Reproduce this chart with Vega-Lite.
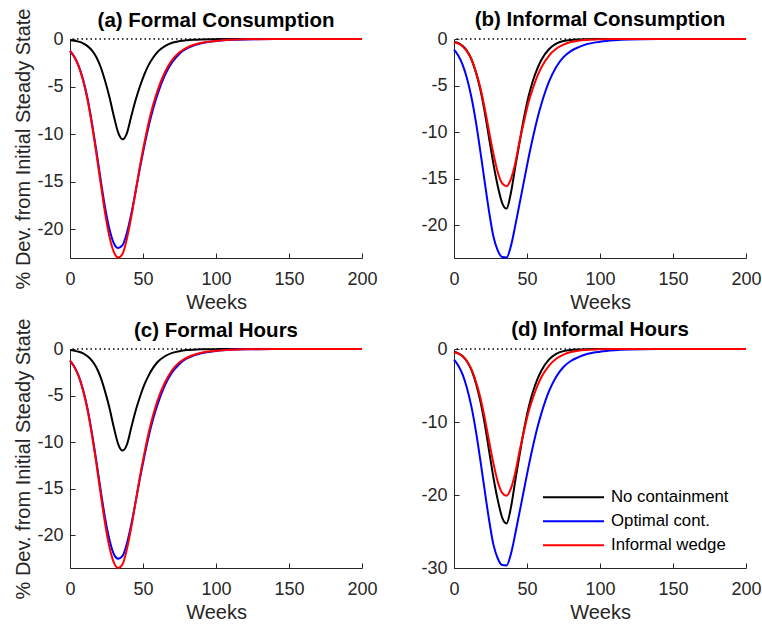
{
  "$schema": "https://vega.github.io/schema/vega-lite/v6.json",
  "background": "white",
  "padding": {"left": 13, "top": 8, "right": 0, "bottom": 0},
  "config": {
    "font": "Liberation Sans",
    "locale": {"number": {"decimal": ".", "thousands": ",", "grouping": [3], "currency": ["$", ""], "minus": "-"}},
    "view": {"stroke": null},
    "axis": {"grid": false, "labelFlush": false, "domainColor": "#262626", "domainWidth": 1, "tickColor": "#262626", "tickSize": -5, "labelColor": "#262626", "labelFontSize": 18, "labelFont": "Liberation Sans", "titleFont": "Liberation Sans", "titleFontSize": 20, "titleFontWeight": "normal", "titleColor": "#262626"},
    "axisX": {"labelPadding": 17, "titlePadding": 4},
    "axisY": {"labelPadding": 12, "titlePadding": 3},
    "title": {"font": "Liberation Sans", "fontSize": 20.5, "fontWeight": "bold", "color": "#000000"}
  },
  "datasets": {
    "a": [
      {"series": "No containment", "week": 0, "value": -0.12}, {"series": "No containment", "week": 3, "value": -0.18}, {"series": "No containment", "week": 6, "value": -0.28}, {"series": "No containment", "week": 9, "value": -0.45}, {"series": "No containment", "week": 12, "value": -0.75}, {"series": "No containment", "week": 15, "value": -1.2}, {"series": "No containment", "week": 18, "value": -1.9}, {"series": "No containment", "week": 21, "value": -2.95}, {"series": "No containment", "week": 24, "value": -4.4}, {"series": "No containment", "week": 27, "value": -6.1}, {"series": "No containment", "week": 30, "value": -8.1}, {"series": "No containment", "week": 33, "value": -9.85}, {"series": "No containment", "week": 36, "value": -10.55}, {"series": "No containment", "week": 39, "value": -9.9}, {"series": "No containment", "week": 42, "value": -8.1}, {"series": "No containment", "week": 45, "value": -6.4}, {"series": "No containment", "week": 48, "value": -4.95}, {"series": "No containment", "week": 51, "value": -3.7}, {"series": "No containment", "week": 54, "value": -2.7}, {"series": "No containment", "week": 57, "value": -1.95}, {"series": "No containment", "week": 60, "value": -1.35}, {"series": "No containment", "week": 65, "value": -0.75}, {"series": "No containment", "week": 70, "value": -0.4}, {"series": "No containment", "week": 75, "value": -0.22}, {"series": "No containment", "week": 80, "value": -0.12}, {"series": "No containment", "week": 85, "value": -0.07}, {"series": "No containment", "week": 90, "value": -0.04}, {"series": "No containment", "week": 100, "value": -0.015}, {"series": "No containment", "week": 110, "value": 0}, {"series": "No containment", "week": 140, "value": 0}, {"series": "No containment", "week": 200, "value": 0},
      {"series": "Optimal cont.", "week": 0, "value": -1.25}, {"series": "Optimal cont.", "week": 3, "value": -1.9}, {"series": "Optimal cont.", "week": 6, "value": -2.85}, {"series": "Optimal cont.", "week": 9, "value": -4.3}, {"series": "Optimal cont.", "week": 12, "value": -6.25}, {"series": "Optimal cont.", "week": 15, "value": -8.8}, {"series": "Optimal cont.", "week": 18, "value": -11.7}, {"series": "Optimal cont.", "week": 21, "value": -14.8}, {"series": "Optimal cont.", "week": 24, "value": -17.7}, {"series": "Optimal cont.", "week": 27, "value": -20.0}, {"series": "Optimal cont.", "week": 30, "value": -21.5}, {"series": "Optimal cont.", "week": 33, "value": -22.0}, {"series": "Optimal cont.", "week": 36, "value": -21.7}, {"series": "Optimal cont.", "week": 39, "value": -20.4}, {"series": "Optimal cont.", "week": 42, "value": -18.4}, {"series": "Optimal cont.", "week": 45, "value": -16.0}, {"series": "Optimal cont.", "week": 48, "value": -13.5}, {"series": "Optimal cont.", "week": 51, "value": -11.2}, {"series": "Optimal cont.", "week": 54, "value": -9.1}, {"series": "Optimal cont.", "week": 57, "value": -7.3}, {"series": "Optimal cont.", "week": 60, "value": -5.8}, {"series": "Optimal cont.", "week": 65, "value": -3.8}, {"series": "Optimal cont.", "week": 70, "value": -2.45}, {"series": "Optimal cont.", "week": 75, "value": -1.55}, {"series": "Optimal cont.", "week": 80, "value": -1.0}, {"series": "Optimal cont.", "week": 85, "value": -0.67}, {"series": "Optimal cont.", "week": 90, "value": -0.44}, {"series": "Optimal cont.", "week": 100, "value": -0.21}, {"series": "Optimal cont.", "week": 110, "value": -0.09}, {"series": "Optimal cont.", "week": 120, "value": -0.04}, {"series": "Optimal cont.", "week": 140, "value": -0.01}, {"series": "Optimal cont.", "week": 170, "value": 0}, {"series": "Optimal cont.", "week": 200, "value": 0},
      {"series": "Informal wedge", "week": 0, "value": -1.25}, {"series": "Informal wedge", "week": 3, "value": -1.9}, {"series": "Informal wedge", "week": 6, "value": -2.9}, {"series": "Informal wedge", "week": 9, "value": -4.4}, {"series": "Informal wedge", "week": 12, "value": -6.4}, {"series": "Informal wedge", "week": 15, "value": -9.0}, {"series": "Informal wedge", "week": 18, "value": -12.0}, {"series": "Informal wedge", "week": 21, "value": -15.2}, {"series": "Informal wedge", "week": 24, "value": -18.3}, {"series": "Informal wedge", "week": 27, "value": -20.8}, {"series": "Informal wedge", "week": 30, "value": -22.4}, {"series": "Informal wedge", "week": 33, "value": -23.0}, {"series": "Informal wedge", "week": 36, "value": -22.6}, {"series": "Informal wedge", "week": 39, "value": -21.0}, {"series": "Informal wedge", "week": 42, "value": -18.7}, {"series": "Informal wedge", "week": 45, "value": -16.0}, {"series": "Informal wedge", "week": 48, "value": -13.3}, {"series": "Informal wedge", "week": 51, "value": -10.9}, {"series": "Informal wedge", "week": 54, "value": -8.7}, {"series": "Informal wedge", "week": 57, "value": -6.9}, {"series": "Informal wedge", "week": 60, "value": -5.4}, {"series": "Informal wedge", "week": 65, "value": -3.5}, {"series": "Informal wedge", "week": 70, "value": -2.2}, {"series": "Informal wedge", "week": 75, "value": -1.4}, {"series": "Informal wedge", "week": 80, "value": -0.9}, {"series": "Informal wedge", "week": 85, "value": -0.6}, {"series": "Informal wedge", "week": 90, "value": -0.4}, {"series": "Informal wedge", "week": 100, "value": -0.2}, {"series": "Informal wedge", "week": 110, "value": -0.08}, {"series": "Informal wedge", "week": 120, "value": -0.03}, {"series": "Informal wedge", "week": 140, "value": 0}, {"series": "Informal wedge", "week": 200, "value": 0}
    ],
    "b": [
      {"series": "No containment", "week": 0, "value": -0.3}, {"series": "No containment", "week": 3, "value": -0.45}, {"series": "No containment", "week": 6, "value": -0.75}, {"series": "No containment", "week": 9, "value": -1.3}, {"series": "No containment", "week": 12, "value": -2.2}, {"series": "No containment", "week": 15, "value": -3.6}, {"series": "No containment", "week": 18, "value": -5.4}, {"series": "No containment", "week": 21, "value": -7.8}, {"series": "No containment", "week": 24, "value": -10.6}, {"series": "No containment", "week": 27, "value": -13.4}, {"series": "No containment", "week": 30, "value": -15.8}, {"series": "No containment", "week": 33, "value": -17.6}, {"series": "No containment", "week": 36, "value": -18.2}, {"series": "No containment", "week": 39, "value": -16.5}, {"series": "No containment", "week": 42, "value": -13.7}, {"series": "No containment", "week": 45, "value": -11.0}, {"series": "No containment", "week": 48, "value": -8.4}, {"series": "No containment", "week": 51, "value": -6.2}, {"series": "No containment", "week": 54, "value": -4.5}, {"series": "No containment", "week": 57, "value": -3.2}, {"series": "No containment", "week": 60, "value": -2.2}, {"series": "No containment", "week": 65, "value": -1.1}, {"series": "No containment", "week": 70, "value": -0.5}, {"series": "No containment", "week": 75, "value": -0.22}, {"series": "No containment", "week": 80, "value": -0.1}, {"series": "No containment", "week": 85, "value": -0.05}, {"series": "No containment", "week": 90, "value": -0.02}, {"series": "No containment", "week": 100, "value": 0}, {"series": "No containment", "week": 140, "value": 0}, {"series": "No containment", "week": 200, "value": 0},
      {"series": "Optimal cont.", "week": 0, "value": -1.15}, {"series": "Optimal cont.", "week": 3, "value": -1.8}, {"series": "Optimal cont.", "week": 6, "value": -2.8}, {"series": "Optimal cont.", "week": 9, "value": -4.3}, {"series": "Optimal cont.", "week": 12, "value": -6.3}, {"series": "Optimal cont.", "week": 15, "value": -8.9}, {"series": "Optimal cont.", "week": 18, "value": -12.0}, {"series": "Optimal cont.", "week": 21, "value": -15.3}, {"series": "Optimal cont.", "week": 24, "value": -18.5}, {"series": "Optimal cont.", "week": 27, "value": -21.2}, {"series": "Optimal cont.", "week": 30, "value": -22.7}, {"series": "Optimal cont.", "week": 33, "value": -23.4}, {"series": "Optimal cont.", "week": 36, "value": -23.45}, {"series": "Optimal cont.", "week": 39, "value": -22.2}, {"series": "Optimal cont.", "week": 42, "value": -20.0}, {"series": "Optimal cont.", "week": 45, "value": -17.6}, {"series": "Optimal cont.", "week": 48, "value": -15.2}, {"series": "Optimal cont.", "week": 51, "value": -12.8}, {"series": "Optimal cont.", "week": 54, "value": -10.6}, {"series": "Optimal cont.", "week": 57, "value": -8.6}, {"series": "Optimal cont.", "week": 60, "value": -6.9}, {"series": "Optimal cont.", "week": 65, "value": -4.6}, {"series": "Optimal cont.", "week": 70, "value": -3.0}, {"series": "Optimal cont.", "week": 75, "value": -1.95}, {"series": "Optimal cont.", "week": 80, "value": -1.3}, {"series": "Optimal cont.", "week": 85, "value": -0.9}, {"series": "Optimal cont.", "week": 90, "value": -0.6}, {"series": "Optimal cont.", "week": 100, "value": -0.3}, {"series": "Optimal cont.", "week": 110, "value": -0.14}, {"series": "Optimal cont.", "week": 120, "value": -0.06}, {"series": "Optimal cont.", "week": 140, "value": -0.01}, {"series": "Optimal cont.", "week": 170, "value": 0}, {"series": "Optimal cont.", "week": 200, "value": 0},
      {"series": "Informal wedge", "week": 0, "value": -0.35}, {"series": "Informal wedge", "week": 3, "value": -0.5}, {"series": "Informal wedge", "week": 6, "value": -0.8}, {"series": "Informal wedge", "week": 9, "value": -1.35}, {"series": "Informal wedge", "week": 12, "value": -2.2}, {"series": "Informal wedge", "week": 15, "value": -3.5}, {"series": "Informal wedge", "week": 18, "value": -5.2}, {"series": "Informal wedge", "week": 21, "value": -7.4}, {"series": "Informal wedge", "week": 24, "value": -9.9}, {"series": "Informal wedge", "week": 27, "value": -12.3}, {"series": "Informal wedge", "week": 30, "value": -14.3}, {"series": "Informal wedge", "week": 33, "value": -15.5}, {"series": "Informal wedge", "week": 36, "value": -15.8}, {"series": "Informal wedge", "week": 39, "value": -15.0}, {"series": "Informal wedge", "week": 42, "value": -13.3}, {"series": "Informal wedge", "week": 45, "value": -10.9}, {"series": "Informal wedge", "week": 48, "value": -8.8}, {"series": "Informal wedge", "week": 51, "value": -6.8}, {"series": "Informal wedge", "week": 54, "value": -5.3}, {"series": "Informal wedge", "week": 57, "value": -4.0}, {"series": "Informal wedge", "week": 60, "value": -3.0}, {"series": "Informal wedge", "week": 65, "value": -1.8}, {"series": "Informal wedge", "week": 70, "value": -1.05}, {"series": "Informal wedge", "week": 75, "value": -0.6}, {"series": "Informal wedge", "week": 80, "value": -0.33}, {"series": "Informal wedge", "week": 85, "value": -0.18}, {"series": "Informal wedge", "week": 90, "value": -0.1}, {"series": "Informal wedge", "week": 100, "value": -0.03}, {"series": "Informal wedge", "week": 110, "value": -0.01}, {"series": "Informal wedge", "week": 120, "value": 0}, {"series": "Informal wedge", "week": 200, "value": 0}
    ],
    "c": [
      {"series": "No containment", "week": 0, "value": -0.12}, {"series": "No containment", "week": 3, "value": -0.19}, {"series": "No containment", "week": 6, "value": -0.29}, {"series": "No containment", "week": 9, "value": -0.47}, {"series": "No containment", "week": 12, "value": -0.78}, {"series": "No containment", "week": 15, "value": -1.24}, {"series": "No containment", "week": 18, "value": -1.96}, {"series": "No containment", "week": 21, "value": -3.05}, {"series": "No containment", "week": 24, "value": -4.55}, {"series": "No containment", "week": 27, "value": -6.3}, {"series": "No containment", "week": 30, "value": -8.4}, {"series": "No containment", "week": 33, "value": -10.2}, {"series": "No containment", "week": 36, "value": -10.9}, {"series": "No containment", "week": 39, "value": -10.25}, {"series": "No containment", "week": 42, "value": -8.4}, {"series": "No containment", "week": 45, "value": -6.6}, {"series": "No containment", "week": 48, "value": -5.1}, {"series": "No containment", "week": 51, "value": -3.8}, {"series": "No containment", "week": 54, "value": -2.8}, {"series": "No containment", "week": 57, "value": -2.0}, {"series": "No containment", "week": 60, "value": -1.4}, {"series": "No containment", "week": 65, "value": -0.78}, {"series": "No containment", "week": 70, "value": -0.42}, {"series": "No containment", "week": 75, "value": -0.23}, {"series": "No containment", "week": 80, "value": -0.12}, {"series": "No containment", "week": 85, "value": -0.07}, {"series": "No containment", "week": 90, "value": -0.04}, {"series": "No containment", "week": 100, "value": -0.015}, {"series": "No containment", "week": 110, "value": 0}, {"series": "No containment", "week": 140, "value": 0}, {"series": "No containment", "week": 200, "value": 0},
      {"series": "Optimal cont.", "week": 0, "value": -1.25}, {"series": "Optimal cont.", "week": 3, "value": -1.93}, {"series": "Optimal cont.", "week": 6, "value": -2.9}, {"series": "Optimal cont.", "week": 9, "value": -4.4}, {"series": "Optimal cont.", "week": 12, "value": -6.4}, {"series": "Optimal cont.", "week": 15, "value": -9.0}, {"series": "Optimal cont.", "week": 18, "value": -11.95}, {"series": "Optimal cont.", "week": 21, "value": -15.15}, {"series": "Optimal cont.", "week": 24, "value": -18.1}, {"series": "Optimal cont.", "week": 27, "value": -20.45}, {"series": "Optimal cont.", "week": 30, "value": -22.0}, {"series": "Optimal cont.", "week": 33, "value": -22.5}, {"series": "Optimal cont.", "week": 36, "value": -22.2}, {"series": "Optimal cont.", "week": 39, "value": -20.85}, {"series": "Optimal cont.", "week": 42, "value": -18.8}, {"series": "Optimal cont.", "week": 45, "value": -16.35}, {"series": "Optimal cont.", "week": 48, "value": -13.8}, {"series": "Optimal cont.", "week": 51, "value": -11.45}, {"series": "Optimal cont.", "week": 54, "value": -9.3}, {"series": "Optimal cont.", "week": 57, "value": -7.45}, {"series": "Optimal cont.", "week": 60, "value": -5.95}, {"series": "Optimal cont.", "week": 65, "value": -3.9}, {"series": "Optimal cont.", "week": 70, "value": -2.5}, {"series": "Optimal cont.", "week": 75, "value": -1.6}, {"series": "Optimal cont.", "week": 80, "value": -1.02}, {"series": "Optimal cont.", "week": 85, "value": -0.69}, {"series": "Optimal cont.", "week": 90, "value": -0.45}, {"series": "Optimal cont.", "week": 100, "value": -0.21}, {"series": "Optimal cont.", "week": 110, "value": -0.09}, {"series": "Optimal cont.", "week": 120, "value": -0.04}, {"series": "Optimal cont.", "week": 140, "value": -0.01}, {"series": "Optimal cont.", "week": 170, "value": 0}, {"series": "Optimal cont.", "week": 200, "value": 0},
      {"series": "Informal wedge", "week": 0, "value": -1.25}, {"series": "Informal wedge", "week": 3, "value": -1.93}, {"series": "Informal wedge", "week": 6, "value": -2.95}, {"series": "Informal wedge", "week": 9, "value": -4.5}, {"series": "Informal wedge", "week": 12, "value": -6.55}, {"series": "Informal wedge", "week": 15, "value": -9.2}, {"series": "Informal wedge", "week": 18, "value": -12.25}, {"series": "Informal wedge", "week": 21, "value": -15.55}, {"series": "Informal wedge", "week": 24, "value": -18.7}, {"series": "Informal wedge", "week": 27, "value": -21.25}, {"series": "Informal wedge", "week": 30, "value": -22.9}, {"series": "Informal wedge", "week": 33, "value": -23.5}, {"series": "Informal wedge", "week": 36, "value": -23.1}, {"series": "Informal wedge", "week": 39, "value": -21.45}, {"series": "Informal wedge", "week": 42, "value": -19.1}, {"series": "Informal wedge", "week": 45, "value": -16.35}, {"series": "Informal wedge", "week": 48, "value": -13.6}, {"series": "Informal wedge", "week": 51, "value": -11.15}, {"series": "Informal wedge", "week": 54, "value": -8.9}, {"series": "Informal wedge", "week": 57, "value": -7.05}, {"series": "Informal wedge", "week": 60, "value": -5.5}, {"series": "Informal wedge", "week": 65, "value": -3.6}, {"series": "Informal wedge", "week": 70, "value": -2.25}, {"series": "Informal wedge", "week": 75, "value": -1.43}, {"series": "Informal wedge", "week": 80, "value": -0.92}, {"series": "Informal wedge", "week": 85, "value": -0.61}, {"series": "Informal wedge", "week": 90, "value": -0.41}, {"series": "Informal wedge", "week": 100, "value": -0.2}, {"series": "Informal wedge", "week": 110, "value": -0.08}, {"series": "Informal wedge", "week": 120, "value": -0.03}, {"series": "Informal wedge", "week": 140, "value": 0}, {"series": "Informal wedge", "week": 200, "value": 0}
    ],
    "d": [
      {"series": "No containment", "week": 0, "value": -0.38}, {"series": "No containment", "week": 3, "value": -0.59}, {"series": "No containment", "week": 6, "value": -0.98}, {"series": "No containment", "week": 9, "value": -1.7}, {"series": "No containment", "week": 12, "value": -2.9}, {"series": "No containment", "week": 15, "value": -4.7}, {"series": "No containment", "week": 18, "value": -7.1}, {"series": "No containment", "week": 21, "value": -10.2}, {"series": "No containment", "week": 24, "value": -13.9}, {"series": "No containment", "week": 27, "value": -17.6}, {"series": "No containment", "week": 30, "value": -20.7}, {"series": "No containment", "week": 33, "value": -23.1}, {"series": "No containment", "week": 36, "value": -23.9}, {"series": "No containment", "week": 39, "value": -21.7}, {"series": "No containment", "week": 42, "value": -18.0}, {"series": "No containment", "week": 45, "value": -14.4}, {"series": "No containment", "week": 48, "value": -11.0}, {"series": "No containment", "week": 51, "value": -8.1}, {"series": "No containment", "week": 54, "value": -5.9}, {"series": "No containment", "week": 57, "value": -4.2}, {"series": "No containment", "week": 60, "value": -2.9}, {"series": "No containment", "week": 65, "value": -1.45}, {"series": "No containment", "week": 70, "value": -0.66}, {"series": "No containment", "week": 75, "value": -0.29}, {"series": "No containment", "week": 80, "value": -0.13}, {"series": "No containment", "week": 85, "value": -0.07}, {"series": "No containment", "week": 90, "value": -0.03}, {"series": "No containment", "week": 100, "value": 0}, {"series": "No containment", "week": 140, "value": 0}, {"series": "No containment", "week": 200, "value": 0},
      {"series": "Optimal cont.", "week": 0, "value": -1.45}, {"series": "Optimal cont.", "week": 3, "value": -2.28}, {"series": "Optimal cont.", "week": 6, "value": -3.54}, {"series": "Optimal cont.", "week": 9, "value": -5.44}, {"series": "Optimal cont.", "week": 12, "value": -7.96}, {"series": "Optimal cont.", "week": 15, "value": -11.25}, {"series": "Optimal cont.", "week": 18, "value": -15.17}, {"series": "Optimal cont.", "week": 21, "value": -19.34}, {"series": "Optimal cont.", "week": 24, "value": -23.38}, {"series": "Optimal cont.", "week": 27, "value": -26.8}, {"series": "Optimal cont.", "week": 30, "value": -28.7}, {"series": "Optimal cont.", "week": 33, "value": -29.6}, {"series": "Optimal cont.", "week": 36, "value": -29.65}, {"series": "Optimal cont.", "week": 39, "value": -28.06}, {"series": "Optimal cont.", "week": 42, "value": -25.28}, {"series": "Optimal cont.", "week": 45, "value": -22.25}, {"series": "Optimal cont.", "week": 48, "value": -19.21}, {"series": "Optimal cont.", "week": 51, "value": -16.18}, {"series": "Optimal cont.", "week": 54, "value": -13.4}, {"series": "Optimal cont.", "week": 57, "value": -10.87}, {"series": "Optimal cont.", "week": 60, "value": -8.72}, {"series": "Optimal cont.", "week": 65, "value": -5.81}, {"series": "Optimal cont.", "week": 70, "value": -3.79}, {"series": "Optimal cont.", "week": 75, "value": -2.46}, {"series": "Optimal cont.", "week": 80, "value": -1.64}, {"series": "Optimal cont.", "week": 85, "value": -1.14}, {"series": "Optimal cont.", "week": 90, "value": -0.76}, {"series": "Optimal cont.", "week": 100, "value": -0.38}, {"series": "Optimal cont.", "week": 110, "value": -0.18}, {"series": "Optimal cont.", "week": 120, "value": -0.08}, {"series": "Optimal cont.", "week": 140, "value": -0.01}, {"series": "Optimal cont.", "week": 170, "value": 0}, {"series": "Optimal cont.", "week": 200, "value": 0},
      {"series": "Informal wedge", "week": 0, "value": -0.45}, {"series": "Informal wedge", "week": 3, "value": -0.64}, {"series": "Informal wedge", "week": 6, "value": -1.02}, {"series": "Informal wedge", "week": 9, "value": -1.72}, {"series": "Informal wedge", "week": 12, "value": -2.8}, {"series": "Informal wedge", "week": 15, "value": -4.45}, {"series": "Informal wedge", "week": 18, "value": -6.6}, {"series": "Informal wedge", "week": 21, "value": -9.4}, {"series": "Informal wedge", "week": 24, "value": -12.6}, {"series": "Informal wedge", "week": 27, "value": -15.65}, {"series": "Informal wedge", "week": 30, "value": -18.2}, {"series": "Informal wedge", "week": 33, "value": -19.7}, {"series": "Informal wedge", "week": 36, "value": -20.1}, {"series": "Informal wedge", "week": 39, "value": -19.1}, {"series": "Informal wedge", "week": 42, "value": -16.9}, {"series": "Informal wedge", "week": 45, "value": -13.9}, {"series": "Informal wedge", "week": 48, "value": -11.2}, {"series": "Informal wedge", "week": 51, "value": -8.65}, {"series": "Informal wedge", "week": 54, "value": -6.75}, {"series": "Informal wedge", "week": 57, "value": -5.1}, {"series": "Informal wedge", "week": 60, "value": -3.8}, {"series": "Informal wedge", "week": 65, "value": -2.3}, {"series": "Informal wedge", "week": 70, "value": -1.34}, {"series": "Informal wedge", "week": 75, "value": -0.76}, {"series": "Informal wedge", "week": 80, "value": -0.42}, {"series": "Informal wedge", "week": 85, "value": -0.23}, {"series": "Informal wedge", "week": 90, "value": -0.13}, {"series": "Informal wedge", "week": 100, "value": -0.04}, {"series": "Informal wedge", "week": 110, "value": -0.01}, {"series": "Informal wedge", "week": 120, "value": 0}, {"series": "Informal wedge", "week": 200, "value": 0}
    ]
  },
  "columns": 2,
  "bounds": "flush",
  "spacing": {"row": 91, "column": 92},
  "resolve": {"legend": {"color": "independent"}},
  "concat": [
    {
      "width": 292, "height": 219,
      "title": {"text": "(a) Formal Consumption", "offset": -23},
      "layer": [
        {"data": {"values": [{"zero": 0}]}, "mark": {"type": "rule", "strokeDash": [1.5, 3], "strokeWidth": 1.5, "color": "#000000"}, "encoding": {"y": {"field": "zero", "type": "quantitative"}}},
        {"data": {"name": "a"}, "mark": {"type": "line", "strokeWidth": 2, "interpolate": "monotone"},
         "encoding": {
           "x": {"field": "week", "type": "quantitative", "scale": {"domain": [0, 200], "nice": false}, "axis": {"values": [0, 50, 100, 150, 200], "title": "Weeks"}},
           "y": {"field": "value", "type": "quantitative", "scale": {"domain": [-23.05, 0], "nice": false, "zero": false}, "axis": {"values": [-20, -15, -10, -5, 0], "title": "% Dev. from Initial Steady State"}},
           "color": {"field": "series", "type": "nominal", "scale": {"domain": ["No containment", "Optimal cont.", "Informal wedge"], "range": ["#000000", "#0000ff", "#ff0000"]}, "legend": null}
         }}
      ]
    },
    {
      "width": 292, "height": 219,
      "title": {"text": "(b) Informal Consumption", "offset": 0},
      "layer": [
        {"data": {"values": [{"zero": 0}]}, "mark": {"type": "rule", "strokeDash": [1.5, 3], "strokeWidth": 1.5, "color": "#000000"}, "encoding": {"y": {"field": "zero", "type": "quantitative"}}},
        {"data": {"name": "b"}, "mark": {"type": "line", "strokeWidth": 2, "interpolate": "monotone"},
         "encoding": {
           "x": {"field": "week", "type": "quantitative", "scale": {"domain": [0, 200], "nice": false}, "axis": {"values": [0, 50, 100, 150, 200], "title": "Weeks"}},
           "y": {"field": "value", "type": "quantitative", "scale": {"domain": [-23.5, 0], "nice": false, "zero": false}, "axis": {"values": [-20, -15, -10, -5, 0], "title": null}},
           "color": {"field": "series", "type": "nominal", "scale": {"domain": ["No containment", "Optimal cont.", "Informal wedge"], "range": ["#000000", "#0000ff", "#ff0000"]}, "legend": null}
         }}
      ]
    },
    {
      "width": 292, "height": 219,
      "title": {"text": "(c) Formal Hours", "offset": -23},
      "layer": [
        {"data": {"values": [{"zero": 0}]}, "mark": {"type": "rule", "strokeDash": [1.5, 3], "strokeWidth": 1.5, "color": "#000000"}, "encoding": {"y": {"field": "zero", "type": "quantitative"}}},
        {"data": {"name": "c"}, "mark": {"type": "line", "strokeWidth": 2, "interpolate": "monotone"},
         "encoding": {
           "x": {"field": "week", "type": "quantitative", "scale": {"domain": [0, 200], "nice": false}, "axis": {"values": [0, 50, 100, 150, 200], "title": "Weeks"}},
           "y": {"field": "value", "type": "quantitative", "scale": {"domain": [-23.5, 0], "nice": false, "zero": false}, "axis": {"values": [-20, -15, -10, -5, 0], "title": "% Dev. from Initial Steady State"}},
           "color": {"field": "series", "type": "nominal", "scale": {"domain": ["No containment", "Optimal cont.", "Informal wedge"], "range": ["#000000", "#0000ff", "#ff0000"]}, "legend": null}
         }}
      ]
    },
    {
      "width": 292, "height": 219,
      "title": {"text": "(d) Informal Hours", "offset": 0},
      "layer": [
        {"data": {"values": [{"zero": 0}]}, "mark": {"type": "rule", "strokeDash": [1.5, 3], "strokeWidth": 1.5, "color": "#000000"}, "encoding": {"y": {"field": "zero", "type": "quantitative"}}},
        {"data": {"name": "d"}, "mark": {"type": "line", "strokeWidth": 2, "interpolate": "monotone"},
         "encoding": {
           "x": {"field": "week", "type": "quantitative", "scale": {"domain": [0, 200], "nice": false}, "axis": {"values": [0, 50, 100, 150, 200], "title": "Weeks"}},
           "y": {"field": "value", "type": "quantitative", "scale": {"domain": [-30, 0], "nice": false, "zero": false}, "axis": {"values": [-30, -20, -10, 0], "title": null}},
           "color": {"field": "series", "type": "nominal", "scale": {"domain": ["No containment", "Optimal cont.", "Informal wedge"], "range": ["#000000", "#0000ff", "#ff0000"]},
             "legend": {"orient": "none", "legendX": 88, "legendY": 140, "title": null, "symbolType": "stroke", "symbolSize": 3721, "symbolStrokeWidth": 2, "labelFontSize": 16.8, "labelColor": "#000000", "labelFont": "Liberation Sans", "clipHeight": 16.5, "rowPadding": 6, "labelOffset": 6, "padding": 0, "symbolOffset": 0}}
         }}
      ]
    }
  ]
}
